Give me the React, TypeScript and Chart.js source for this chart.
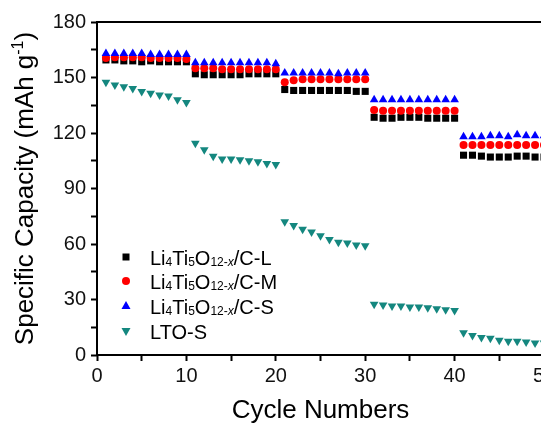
import React, { useEffect, useRef } from "react";
import { Chart, registerables } from "chart.js";

Chart.register(...registerables);

const cycles = [
  1, 2, 3, 4, 5, 6, 7, 8, 9, 10,
  11, 12, 13, 14, 15, 16, 17, 18, 19, 20,
  21, 22, 23, 24, 25, 26, 27, 28, 29, 30,
  31, 32, 33, 34, 35, 36, 37, 38, 39, 40,
  41, 42, 43, 44, 45, 46, 47, 48, 49, 50,
];

const seriesL = [
  159.5, 159.5, 159, 159, 158.5, 159, 158.5, 158.5, 158.5, 158.5,
  152, 151.5, 151.5, 151.5, 151.5, 151.5, 152, 152, 152, 152,
  143.5, 143, 143, 143, 143, 143, 143, 143, 142.5, 142.5,
  128.5, 128, 128, 128.5, 128.5, 128.5, 128, 128, 128, 128,
  108, 108, 107.5, 107, 107, 107, 107.5, 107.5, 107, 107,
];

const seriesM = [
  160.5, 161, 161, 161, 161, 160.5, 160.5, 160.5, 160.5, 160,
  155, 155, 155, 154.5, 154.5, 154.5, 154.5, 154.5, 154.5, 154.5,
  147.5, 148.5, 149, 149, 149, 149, 149, 149, 149, 149,
  132.5, 132, 132, 132, 132, 132, 132, 132, 132, 132,
  113.5, 113.5, 113.5, 113.5, 113.5, 113.5, 113.5, 113.5, 113.5, 113.5,
];

const seriesS = [
  163, 163, 163, 163, 163, 162.5, 162.5, 162.5, 162.5, 162.5,
  158, 158, 158, 158, 158, 158, 158, 158, 158, 157.5,
  152.5, 152.5, 152.5, 152.5, 152.5, 152.5, 152, 152.5, 152.5, 152.5,
  138, 138, 138, 138, 138, 138, 138, 138, 138, 138,
  118, 118, 118, 118.5, 118.5, 118, 119, 118.5, 118.5, 118.5,
];

const seriesLTO = [
  147.5, 146, 145, 144, 142.5, 141.5, 140.5, 140, 138, 136.5,
  114.5, 111, 107.5, 106, 106, 105.5, 105, 104.5, 103.5, 103,
  72, 70, 68, 66.5, 64.5, 62.5, 61, 60.5, 59.5, 59,
  27.5, 27, 26.5, 26.5, 26, 26, 25.5, 25, 24.5, 24,
  12, 10.5, 9.5, 9, 8, 7.5, 7.5, 7, 6.5, 6.5,
];

const xTickLabels = ["0", "10", "20", "30", "40", "50"];
const yTickLabels = ["0", "30", "60", "90", "120", "150", "180"];

const FONT = "'Liberation Sans', Arial, sans-serif";
const TEAL = "#14877f";

type Seg = { t: string; small?: boolean; italic?: boolean };
const formula = (suffix: string): Seg[] => [
  { t: "Li" },
  { t: "4", small: true },
  { t: "Ti" },
  { t: "5", small: true },
  { t: "O" },
  { t: "12-", small: true },
  { t: "x", small: true, italic: true },
  { t: "/" + suffix },
];

const legendItems: { segs: Seg[]; shape: string; color: string }[] = [
  { segs: formula("C-L"), shape: "square", color: "#000000" },
  { segs: formula("C-M"), shape: "circle", color: "#ff0000" },
  { segs: formula("C-S"), shape: "triangle", color: "#0000ff" },
  { segs: [{ t: "LTO-S" }], shape: "invtriangle", color: TEAL },
];

function drawMarker(ctx: CanvasRenderingContext2D, shape: string, x: number, y: number, color: string) {
  ctx.save();
  ctx.fillStyle = color;
  ctx.beginPath();
  if (shape === "square") {
    ctx.rect(x - 3.5, y - 3.5, 7, 7);
  } else if (shape === "circle") {
    ctx.arc(x, y, 4, 0, Math.PI * 2);
  } else if (shape === "triangle") {
    ctx.moveTo(x, y - 5);
    ctx.lineTo(x + 4.5, y + 3);
    ctx.lineTo(x - 4.5, y + 3);
    ctx.closePath();
  } else {
    ctx.moveTo(x, y + 5);
    ctx.lineTo(x + 4.5, y - 3);
    ctx.lineTo(x - 4.5, y - 3);
    ctx.closePath();
  }
  ctx.fill();
  ctx.restore();
}

function drawSegs(ctx: CanvasRenderingContext2D, segs: Seg[], x: number, y: number, size: number) {
  let cx = x;
  for (const s of segs) {
    const fs = s.small ? Math.round(size * 0.62) : size;
    ctx.font = `${s.italic ? "italic " : ""}${fs}px ${FONT}`;
    ctx.fillText(s.t, cx, y + (s.small ? 1 : 0));
    cx += ctx.measureText(s.t).width;
  }
}

const decorPlugin = {
  id: "decor",
  beforeDatasetsDraw(chart: any) {
    const { ctx, chartArea } = chart;
    ctx.save();
    ctx.strokeStyle = "#000";
    ctx.lineWidth = 2;
    ctx.strokeRect(chartArea.left, chartArea.top, chartArea.right - chartArea.left, chartArea.bottom - chartArea.top);
    ctx.restore();
  },
  afterDraw(chart: any) {
    const { ctx, chartArea } = chart;
    ctx.save();
    ctx.fillStyle = "#000";
    ctx.textBaseline = "alphabetic";
    ctx.textAlign = "left";
    // legend
    const rowY = [257, 281, 306, 331];
    legendItems.forEach((it, i) => {
      drawMarker(ctx, it.shape, 126, rowY[i], it.color);
      ctx.fillStyle = "#000";
      drawSegs(ctx, it.segs, 150, rowY[i] + 7.5, 20);
    });
    // x title
    ctx.font = `26px ${FONT}`;
    ctx.textAlign = "center";
    ctx.fillText("Cycle Numbers", (chartArea.left + chartArea.right) / 2, 418);
    // y title
    ctx.translate(33, (chartArea.top + chartArea.bottom) / 2);
    ctx.rotate(-Math.PI / 2);
    ctx.textAlign = "left";
    const main = "Specific Capacity (mAh g";
    const sup = "-1";
    const end = ")";
    ctx.font = `26px ${FONT}`;
    const w1 = ctx.measureText(main).width;
    const w3 = ctx.measureText(end).width;
    ctx.font = `16px ${FONT}`;
    const w2 = ctx.measureText(sup).width;
    let sx = -(w1 + w2 + w3) / 2;
    ctx.font = `26px ${FONT}`;
    ctx.fillText(main, sx, 0);
    sx += w1;
    ctx.font = `16px ${FONT}`;
    ctx.fillText(sup, sx, -10);
    sx += w2;
    ctx.font = `26px ${FONT}`;
    ctx.fillText(end, sx, 0);
    ctx.restore();
  },
};

export default function App() {
  const ref = useRef<HTMLCanvasElement | null>(null);

  useEffect(() => {
    if (!ref.current) return;
    const mk = (arr: number[]) => cycles.map((c, i) => ({ x: c, y: arr[i] }));
    const chart = new Chart(ref.current, {
      type: "scatter",
      data: {
        datasets: [
          {
            label: "Li4Ti5O12-x/C-L",
            data: mk(seriesL),
            pointStyle: "rect",
            pointRadius: 5,
            backgroundColor: "#000000",
            borderWidth: 0,
            order: 4,
          },
          {
            label: "Li4Ti5O12-x/C-M",
            data: mk(seriesM),
            pointStyle: "circle",
            pointRadius: 4,
            backgroundColor: "#ff0000",
            borderWidth: 0,
            order: 3,
          },
          {
            label: "Li4Ti5O12-x/C-S",
            data: mk(seriesS),
            pointStyle: "triangle",
            pointRadius: 5,
            backgroundColor: "#0000ff",
            borderWidth: 0,
            order: 2,
          },
          {
            label: "LTO-S",
            data: mk(seriesLTO),
            pointStyle: "triangle",
            rotation: 180,
            pointRadius: 5,
            backgroundColor: TEAL,
            borderWidth: 0,
            order: 1,
          },
        ],
      },
      options: {
        responsive: false,
        animation: false,
        events: [],
        layout: { padding: { top: 22, right: 56, bottom: 0, left: 0 } },
        plugins: {
          legend: { display: false },
          tooltip: { enabled: false },
          title: { display: false },
        },
        scales: {
          x: {
            type: "linear",
            min: 0,
            max: 50,
            afterFit: (s: any) => {
              s.height = 68;
              s.paddingLeft = 0;
              s.paddingRight = 0;
            },
            border: { display: false },
            grid: {
              display: true,
              drawOnChartArea: false,
              drawTicks: true,
              tickLength: 6,
              tickColor: "#000",
              tickWidth: 2,
            },
            ticks: {
              stepSize: 5,
              padding: 3,
              color: "#111",
              font: { family: FONT, size: 20 },
              maxRotation: 0,
              autoSkip: false,
              callback: (v: any) => {
                const s = String(v);
                return xTickLabels.includes(s) ? s : "";
              },
            },
          },
          y: {
            type: "linear",
            min: 0,
            max: 180,
            afterFit: (s: any) => {
              s.width = 97;
              s.paddingTop = 0;
              s.paddingBottom = 0;
            },
            border: { display: false },
            grid: {
              display: true,
              drawOnChartArea: false,
              drawTicks: true,
              tickLength: 6,
              tickColor: "#000",
              tickWidth: 2,
            },
            ticks: {
              stepSize: 15,
              padding: 5,
              color: "#111",
              font: { family: FONT, size: 20 },
              autoSkip: false,
              callback: (v: any) => {
                const s = String(v);
                return yTickLabels.includes(s) ? s : "";
              },
            },
          },
        },
      },
      plugins: [decorPlugin],
    });
    return () => chart.destroy();
  }, []);

  return (
    <div
      style={{
        position: "fixed",
        left: 0,
        top: 0,
        width: 541,
        height: 423,
        overflow: "hidden",
        background: "#fff",
      }}
    >
      <canvas ref={ref} width={600} height={423} style={{ display: "block", width: 600, height: 423 }} />
    </div>
  );
}
